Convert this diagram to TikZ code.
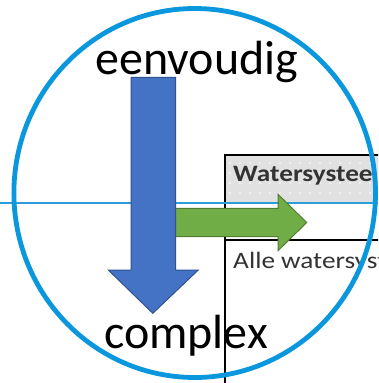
\documentclass[tikz,border=0pt]{standalone}
\usepackage{fontspec}
\setmainfont{Carlito}
\usetikzlibrary{patterns.meta}
\definecolor{ringblue}{HTML}{0B97DD}
\definecolor{lineblue}{HTML}{2E9BDB}
\definecolor{arrblue}{HTML}{4472C4}
\definecolor{arrblueb}{HTML}{2F528F}
\definecolor{arrgreen}{HTML}{70AD47}
\definecolor{arrgreenb}{HTML}{507E32}
\definecolor{hdrgray}{HTML}{E1E1E1}
\definecolor{txtgray}{HTML}{333333}
\tikzset{
  bigtext/.style={anchor=base west,inner sep=0pt,font=\fontsize{48}{56}\selectfont,text=black},
  tabtext/.style={anchor=base west,inner sep=0pt,font=\fontsize{23.5}{28}\selectfont,text=txtgray,xscale=1.16,transform shape},
  boxline/.style={draw=black,line width=2pt},
  fatarrow/.style={line width=1pt,line join=miter}
}
\begin{document}
\begin{tikzpicture}[x=1pt,y=-1pt]
\useasboundingbox (0,0) rectangle (378,383);
\clip (0,0) rectangle (378,383);
% header band
\fill[hdrgray] (225,155) rectangle (390,203);
\fill[pattern={Dots[distance=10pt,radius=0.8pt]},pattern color=white] (226,156) rectangle (390,202);
% table lines
\draw[boxline] (225,390) -- (225,154.5) -- (390,154.5);
\draw[boxline] (225,239.5) -- (390,239.5);
% thin horizontal line
\draw[lineblue,line width=1.5pt] (0,203) -- (378,203);
% table texts
\node[tabtext,font=\fontsize{23.5}{28}\selectfont\bfseries] (hdr) at (233,181.7) {Watersystee};
\node[tabtext] (row) at (233,268) {Alle watersyst};
% green arrow
\draw[fatarrow,fill=arrgreen,draw=arrgreenb] (175,208.3) -- (278,208.3) -- (278,194.3) -- (306.7,222.5) -- (278,250.7) -- (278,236.7) -- (175,236.7) -- cycle;
% blue arrow
\draw[fatarrow,fill=arrblue,draw=arrblueb] (131,77.3) -- (175.5,77.3) -- (175.5,270) -- (198.3,270) -- (152.8,313.3) -- (108.3,270) -- (131,270) -- cycle;
% big texts
\node[bigtext] (top) at (95,74) {eenvoudig};
\node[bigtext] (bot) at (104,348) {complex};
% ring
\draw[ringblue,line width=4.8pt] (194.7,193) ellipse [x radius=180.8,y radius=184.5];
\end{tikzpicture}
\end{document}
